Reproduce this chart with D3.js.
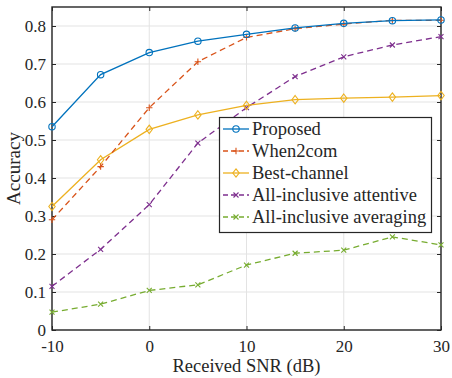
<!DOCTYPE html>
<html>
<head>
<meta charset="utf-8">
<script src="https://cdn.jsdelivr.net/npm/d3@7"></script>
<style>
  body { margin: 0; background: #fff; }
</style>
</head>
<body>
<svg id="chart" width="452" height="378"></svg>
<script>
// data
var snr = [-10, -5, 0, 5, 10, 15, 20, 25, 30];
var proposed   = [0.535, 0.672, 0.730, 0.760, 0.778, 0.795, 0.807, 0.814, 0.816];
var when2com   = [0.290, 0.430, 0.585, 0.706, 0.770, 0.793, 0.805, 0.815, 0.815];
var bestChan   = [0.325, 0.448, 0.528, 0.566, 0.591, 0.606, 0.610, 0.613, 0.617];
var attentive  = [0.115, 0.212, 0.330, 0.492, 0.585, 0.667, 0.719, 0.750, 0.772];
var averaging  = [0.047, 0.068, 0.104, 0.119, 0.171, 0.202, 0.210, 0.245, 0.224];
var seriesNames = ["Proposed", "When2com", "Best-channel", "All-inclusive attentive", "All-inclusive averaging"];
var xTicks = [-10, 0, 10, 20, 30];
var yTicks = [0, 0.1, 0.2, 0.3, 0.4, 0.5, 0.6, 0.7, 0.8];

var series = [
  {name: seriesNames[0], values: proposed,  color: "#0072BD", dash: null,  marker: "circle"},
  {name: seriesNames[1], values: when2com,  color: "#D95319", dash: "6,4", marker: "plus"},
  {name: seriesNames[2], values: bestChan,  color: "#EDB120", dash: null,  marker: "diamond"},
  {name: seriesNames[3], values: attentive, color: "#7E2F8E", dash: "6,4", marker: "cross"},
  {name: seriesNames[4], values: averaging, color: "#77AC30", dash: "6,4", marker: "cross"}
];

var FONT = "'Liberation Serif', 'Times New Roman', serif";
var svg = d3.select("#chart"),
  pLeft = 52, pRight = 441, pTop = 7, pBottom = 330;

var x = d3.scaleLinear().domain([-10, 30]).range([pLeft, pRight]);
var y = d3.scaleLinear().domain([0, 0.85]).range([pBottom, pTop]);

// grid
svg.append("g").selectAll("line").data(xTicks).join("line")
  .attr("x1", d => x(d)).attr("x2", d => x(d))
  .attr("y1", pTop).attr("y2", pBottom)
  .attr("stroke", "#e3e3e3").attr("stroke-width", 1);
svg.append("g").selectAll("line").data(yTicks).join("line")
  .attr("x1", pLeft).attr("x2", pRight)
  .attr("y1", d => y(d)).attr("y2", d => y(d))
  .attr("stroke", "#e3e3e3").attr("stroke-width", 1);

// axes with inward ticks
var axisColor = "#262626";
function styleAxis(g) {
  g.attr("font-family", FONT);
  g.select(".domain").remove();
  g.selectAll(".tick line").attr("stroke", axisColor).attr("stroke-width", 1);
  g.selectAll(".tick text").style("font-family", FONT).style("font-size", "17px").attr("fill", axisColor);
}
svg.append("g").attr("transform", "translate(0," + pBottom + ")")
  .call(d3.axisBottom(x).tickValues(xTicks).tickSize(-4).tickPadding(10).tickFormat(d => String(d)))
  .call(styleAxis);
svg.append("g").attr("transform", "translate(0," + pTop + ")")
  .call(d3.axisTop(x).tickValues(xTicks).tickSize(-4).tickFormat(""))
  .call(styleAxis);
svg.append("g").attr("transform", "translate(" + pLeft + ",0)")
  .call(d3.axisLeft(y).tickValues(yTicks).tickSize(-4).tickPadding(6).tickFormat(d => d === 0 ? "0" : d3.format(".1f")(d)))
  .call(styleAxis);
svg.append("g").attr("transform", "translate(" + pRight + ",0)")
  .call(d3.axisRight(y).tickValues(yTicks).tickSize(-4).tickFormat(""))
  .call(styleAxis);

// box
svg.append("rect").attr("x", pLeft).attr("y", pTop)
  .attr("width", pRight - pLeft).attr("height", pBottom - pTop)
  .attr("fill", "none").attr("stroke", axisColor).attr("stroke-width", 1.4);

function drawMarker(g, kind, cx, cy, color) {
  var r = 3.2;
  if (kind === "circle") {
    g.append("circle").attr("cx", cx).attr("cy", cy).attr("r", r)
      .attr("fill", "none").attr("stroke", color).attr("stroke-width", 1.1);
  } else if (kind === "diamond") {
    g.append("path").attr("d", "M" + cx + "," + (cy - 4.2) + "L" + (cx + 3.2) + "," + cy + "L" + cx + "," + (cy + 4.2) + "L" + (cx - 3.2) + "," + cy + "Z")
      .attr("fill", "none").attr("stroke", color).attr("stroke-width", 1.1);
  } else if (kind === "plus") {
    g.append("path").attr("d", "M" + (cx - r) + "," + cy + "H" + (cx + r) + "M" + cx + "," + (cy - r) + "V" + (cy + r))
      .attr("stroke", color).attr("stroke-width", 1.1);
  } else {
    var k = 2.5;
    g.append("path").attr("d", "M" + (cx - k) + "," + (cy - k) + "L" + (cx + k) + "," + (cy + k) + "M" + (cx - k) + "," + (cy + k) + "L" + (cx + k) + "," + (cy - k))
      .attr("stroke", color).attr("stroke-width", 1.1);
  }
}

var line = d3.line().x(d => x(d[0])).y(d => y(d[1]));

// draw bottom series first so Proposed sits on top
series.slice().reverse().forEach(function (s) {
  var pts = snr.map((v, i) => [v, s.values[i]]);
  var g = svg.append("g");
  g.append("path").datum(pts).attr("d", line)
    .attr("fill", "none").attr("stroke", s.color).attr("stroke-width", 1.3)
    .attr("stroke-dasharray", s.dash);
  pts.forEach(p => drawMarker(g, s.marker, x(p[0]), y(p[1]), s.color));
});

// legend
var lg = svg.append("g");
lg.append("rect").attr("x", 219.5).attr("y", 117.5).attr("width", 212).attr("height", 115)
  .attr("fill", "#fff").attr("stroke", axisColor).attr("stroke-width", 1.2);
series.forEach(function (s, i) {
  var ly = 129 + i * 22;
  lg.append("line").attr("x1", 223).attr("x2", 249).attr("y1", ly).attr("y2", ly)
    .attr("stroke", s.color).attr("stroke-width", 1.3).attr("stroke-dasharray", s.dash ? "5,3" : null);
  drawMarker(lg, s.marker, 236, ly, s.color);
  lg.append("text").attr("x", 252).attr("y", ly).attr("dy", "0.35em")
    .style("font-family", FONT).style("font-size", "18.5px").attr("fill", axisColor).text(s.name);
});

// axis labels
svg.append("text").attr("x", (pLeft + pRight) / 2).attr("y", 372)
  .attr("text-anchor", "middle").style("font-family", FONT).style("font-size", "18.5px")
  .attr("fill", axisColor).text("Received SNR (dB)");
svg.append("text").attr("transform", "translate(13," + ((pTop + pBottom) / 2) + ") rotate(-90)")
  .attr("text-anchor", "middle").attr("dy", "0.35em").style("font-family", FONT).style("font-size", "19px")
  .attr("fill", axisColor).text("Accuracy");
</script>
</body>
</html>
